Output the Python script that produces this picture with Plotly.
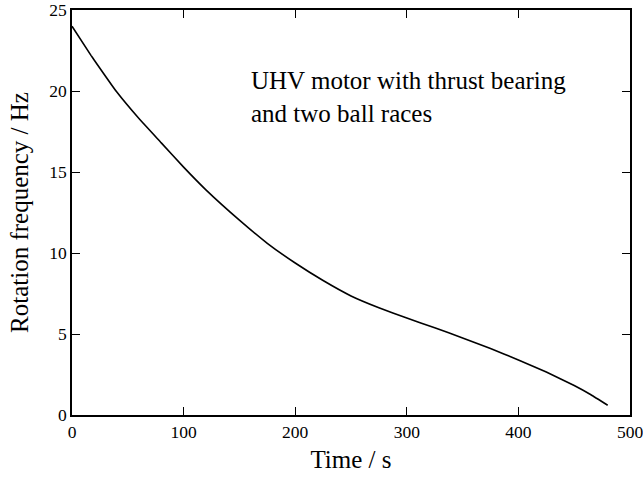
import plotly.graph_objects as go

time_s = [0, 17, 20, 40, 60, 80, 100, 120, 150, 175, 200, 225, 250, 275, 300, 325, 350, 375, 400, 425, 450, 465, 480]
freq_hz = [24.0, 22.2, 21.9, 19.95, 18.3, 16.8, 15.3, 13.9, 12.03, 10.6, 9.38, 8.3, 7.35, 6.62, 5.98, 5.38, 4.76, 4.1, 3.4, 2.65, 1.82, 1.25, 0.6]

x_ticks = [0, 100, 200, 300, 400, 500]
y_ticks = [0, 5, 10, 15, 20, 25]

label_lines = ["UHV motor with thrust bearing", "and two ball races"]

font_family = "Liberation Serif, Times New Roman, serif"

fig = go.Figure()
fig.add_trace(go.Scatter(x=time_s, y=freq_hz, mode="lines",
                         line=dict(color="black", width=1.6, shape="spline", smoothing=0.3),
                         showlegend=False, hoverinfo="skip"))

fig.add_annotation(x=159, y=19.65, text="<br>".join(label_lines), showarrow=False,
                   xanchor="left", yanchor="middle", align="left",
                   font=dict(family=font_family, size=25, color="black"))

axis_common = dict(
    showgrid=False, zeroline=False, showline=True, linecolor="black", linewidth=1.5,
    mirror="ticks", ticks="inside", ticklen=8, tickwidth=1, tickcolor="black",
    tickfont=dict(family=font_family, size=17.5, color="black"),
    automargin=False, ticklabeloverflow="allow",
)

fig.update_xaxes(range=[0, 500], tickvals=x_ticks, ticktext=[str(v) for v in x_ticks],
                 title=dict(text="Time / s", font=dict(family=font_family, size=25, color="black"), standoff=10),
                 **axis_common)
fig.update_yaxes(range=[0, 25], tickvals=y_ticks, ticktext=[str(v) for v in y_ticks],
                 title=dict(text="Rotation frequency / Hz", font=dict(family=font_family, size=25, color="black"), standoff=14),
                 **axis_common)

fig.update_layout(width=643, height=480, margin=dict(l=72, r=13, t=10, b=65),
                  plot_bgcolor="white", paper_bgcolor="white")

fig.write_html("out.html")
